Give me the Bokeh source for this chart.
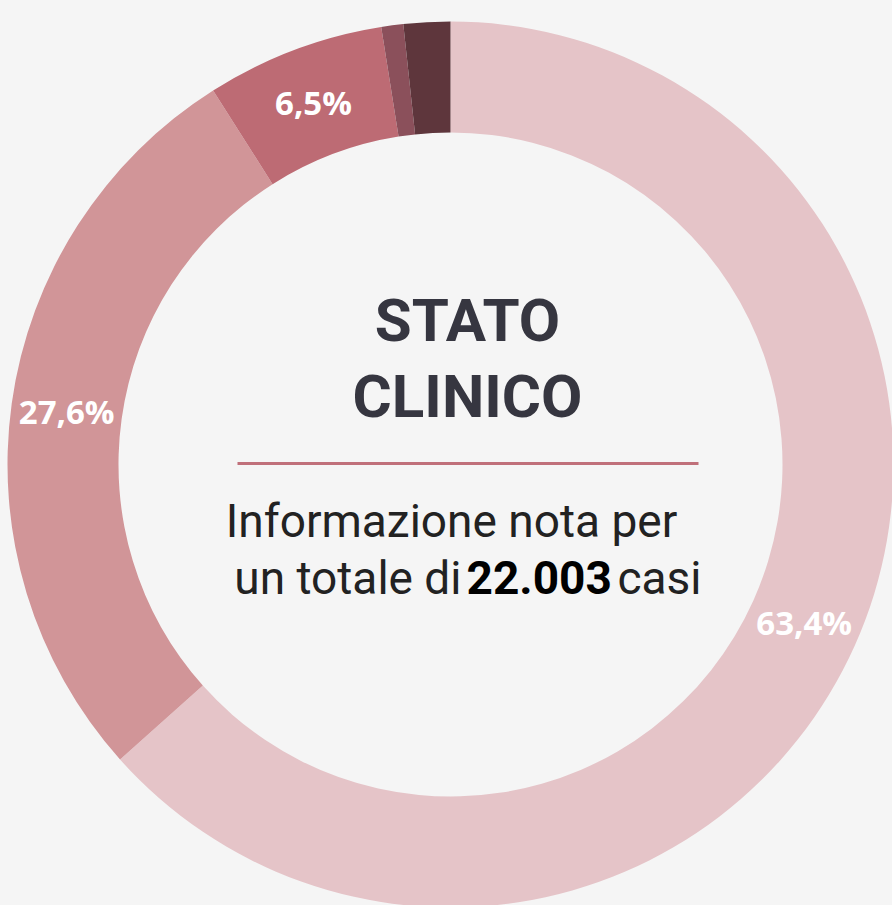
import math
from bokeh.plotting import figure
from bokeh.models import Range1d, ColumnDataSource
from bokeh.core.properties import value
from bokeh.embed import file_html
from bokeh.resources import INLINE

# Data
categories = ["A", "B", "C", "D", "E"]
shares = [63.4, 27.6, 6.5, 0.8, 1.7]
labels = ["63,4%", "27,6%", "6,5%", "", ""]
colors = ["#e5c4c8", "#d19598", "#bd6b74", "#8b505b", "#5e363c"]
title_lines = ["STATO", "CLINICO"]
subtitle = "Informazione nota per"
total_prefix = "un totale di"
total_value = "22.003"
total_suffix = "casi"

W, H = 892, 905
CX, CY = 450, 905 - 464
R_OUT, R_IN = 443, 332

total = sum(shares)
starts, ends, mids = [], [], []
cum = 0.0
for s in shares:
    a0 = math.pi / 2 - 2 * math.pi * cum / total
    cum += s
    a1 = math.pi / 2 - 2 * math.pi * cum / total
    starts.append(a0)
    ends.append(a1)
    mids.append((a0 + a1) / 2)

rmid = (R_OUT + R_IN) / 2
lx = [CX + rmid * math.cos(m) for m in mids]
ly = [CY + rmid * math.sin(m) for m in mids]

src = ColumnDataSource(dict(cat=categories, start=starts, end=ends, color=colors,
                            lx=lx, ly=ly, label=labels))

p = figure(width=W, height=H, output_backend="svg", toolbar_location=None,
           x_range=Range1d(0, W), y_range=Range1d(0, H), min_border=0)
p.axis.visible = False
p.grid.visible = False
p.outline_line_color = None
p.background_fill_color = "#f5f5f5"
p.border_fill_color = "#f5f5f5"

p.annular_wedge(x=CX, y=CY, inner_radius=R_IN, outer_radius=R_OUT,
                start_angle="start", end_angle="end", direction="clock",
                fill_color="color", line_color=None, source=src)

p.text(x="lx", y="ly", text="label", source=src, text_color="white",
       text_font=value("Open Sans"), text_font_style="bold", text_font_size="33px",
       text_align="center", text_baseline="middle")

def py(page_y):
    return H - page_y

p.text(x=[467, 467], y=[py(320), py(396)], text=title_lines,
       text_color="#363640", text_font=value("Roboto"), text_font_style="bold",
       text_font_size="60px", text_align="center", text_baseline="alphabetic")

p.segment(x0=[237], y0=[py(463)], x1=[698], y1=[py(463)],
          line_color="#c0707a", line_width=3)

p.text(x=[451], y=[py(520)], text=[subtitle], text_color="#222222",
       text_font=value("Roboto"), text_font_size="46px",
       text_align="center", text_baseline="alphabetic")
p.text(x=[461], y=[py(577)], text=[total_prefix], text_color="#222222",
       text_font=value("Roboto"), text_font_size="46px",
       text_align="right", text_baseline="alphabetic")
p.text(x=[466], y=[py(577)], text=[total_value], text_color="#000000",
       text_font=value("Roboto"), text_font_style="bold", text_font_size="46px",
       text_align="left", text_baseline="alphabetic")
p.text(x=[617], y=[py(577)], text=[total_suffix], text_color="#222222",
       text_font=value("Roboto"), text_font_size="46px",
       text_align="left", text_baseline="alphabetic")

html = file_html(p, INLINE)
html = html.replace("<body>", '<body style="background:#f5f5f5;">')
open("out.html", "w").write(html)
